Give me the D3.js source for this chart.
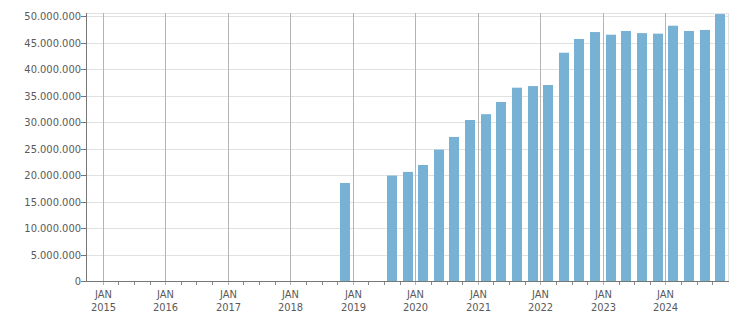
<!DOCTYPE html>
<html>
<head>
<meta charset="utf-8">
<script src="https://cdn.jsdelivr.net/npm/d3@7"></script>
<style>
  body { margin: 0; background: #fff; }
  text { font-family: "DejaVu Sans Condensed", "DejaVu Sans", sans-serif; font-size: 11px; fill: #5a5a5a; }
</style>
</head>
<body>
<script>
// quarter (start month) and value
var quarters = ["2018-10", "2019-07", "2019-10", "2020-01", "2020-04", "2020-07", "2020-10",
                "2021-01", "2021-04", "2021-07", "2021-10", "2022-01", "2022-04", "2022-07",
                "2022-10", "2023-01", "2023-04", "2023-07", "2023-10", "2024-01", "2024-04",
                "2024-07", "2024-10"];
var values = [18.5, 19.9, 20.6, 21.9, 24.8, 27.2, 30.4,
              31.5, 33.8, 36.5, 36.8, 37.0, 43.1, 45.7,
              47.0, 46.5, 47.2, 46.8, 46.7, 48.2, 47.2,
              47.4, 50.4].map(function(v) { return v * 1e6; });
var years = [2015, 2016, 2017, 2018, 2019, 2020, 2021, 2022, 2023, 2024];
var yTicks = [0, 5e6, 10e6, 15e6, 20e6, 25e6, 30e6, 35e6, 40e6, 45e6, 50e6];

var width = 751, height = 313,
    margin = {top: 13, right: 23, bottom: 32, left: 87};

var svg = d3.select("body").append("svg")
    .attr("width", width)
    .attr("height", height);

var x = d3.scaleLinear()
    .domain([2014.75, 2025])
    .range([margin.left, width - margin.right]);

var y = d3.scaleLinear()
    .domain([0, 50.6e6])
    .range([height - margin.bottom, margin.top]);

var fmt = function(d) { return d3.format(",")(d).replace(/,/g, "."); };

// horizontal grid
svg.append("g").selectAll("line")
    .data(yTicks)
    .enter().append("line")
    .attr("x1", margin.left).attr("x2", width - margin.right)
    .attr("y1", function(d) { return Math.round(y(d)) + 0.5; })
    .attr("y2", function(d) { return Math.round(y(d)) + 0.5; })
    .attr("stroke", "#e1e1e1");

// frame top / right
svg.append("line")
    .attr("x1", margin.left).attr("x2", width - margin.right + 0.5)
    .attr("y1", margin.top + 0.5).attr("y2", margin.top + 0.5)
    .attr("stroke", "#e1e1e1");
svg.append("line")
    .attr("x1", width - margin.right + 0.5).attr("x2", width - margin.right + 0.5)
    .attr("y1", margin.top).attr("y2", height - margin.bottom)
    .attr("stroke", "#e1e1e1");

// vertical grid at JAN
svg.append("g").selectAll("line")
    .data(years)
    .enter().append("line")
    .attr("x1", function(d) { return Math.round(x(d)) + 0.5; })
    .attr("x2", function(d) { return Math.round(x(d)) + 0.5; })
    .attr("y1", margin.top)
    .attr("y2", height - margin.bottom + 4)
    .attr("stroke", "#b4b4b4");

// bars
var qx = function(q) {
    var p = q.split("-");
    return +p[0] + (+p[1] - 1) / 12;
};
var barW = 10;
svg.append("g").selectAll("rect")
    .data(quarters)
    .enter().append("rect")
    .attr("x", function(d) { return Math.round(x(qx(d) + 1.5 / 12) - barW / 2); })
    .attr("width", barW)
    .attr("y", function(d, i) { return y(values[i]); })
    .attr("height", function(d, i) { return y(0) - y(values[i]); })
    .attr("fill", "#77b1d4");

// minor ticks (quarters)
var qTicks = d3.range(2015, 2025, 0.25).filter(function(d) { return d % 1 !== 0; });
svg.append("g").selectAll("line")
    .data(qTicks)
    .enter().append("line")
    .attr("x1", function(d) { return Math.round(x(d)) + 0.5; })
    .attr("x2", function(d) { return Math.round(x(d)) + 0.5; })
    .attr("y1", height - margin.bottom)
    .attr("y2", height - margin.bottom + 4)
    .attr("stroke", "#888");

// axes lines
svg.append("line")
    .attr("x1", margin.left - 0.5).attr("x2", width - margin.right + 1)
    .attr("y1", Math.round(y(0)) + 0.5).attr("y2", Math.round(y(0)) + 0.5)
    .attr("stroke", "#777");
svg.append("line")
    .attr("x1", margin.left - 0.5).attr("x2", margin.left - 0.5)
    .attr("y1", margin.top).attr("y2", Math.round(y(0)) + 1)
    .attr("stroke", "#777");

// y ticks + labels
var yg = svg.append("g").selectAll("g")
    .data(yTicks)
    .enter().append("g")
    .attr("transform", function(d) { return "translate(0," + (Math.round(y(d)) + 0.5) + ")"; });
yg.append("line")
    .attr("x1", margin.left - 6).attr("x2", margin.left)
    .attr("stroke", "#777");
yg.append("text")
    .attr("x", margin.left - 6)
    .attr("dy", "0.35em")
    .attr("text-anchor", "end")
    .text(fmt);

// x labels
var xg = svg.append("g").selectAll("g")
    .data(years)
    .enter().append("g")
    .attr("transform", function(d) { return "translate(" + (Math.round(x(d)) + 0.5) + ",0)"; });
xg.append("text")
    .attr("y", 298)
    .attr("text-anchor", "middle")
    .text("JAN");
xg.append("text")
    .attr("y", 311)
    .attr("text-anchor", "middle")
    .text(function(d) { return d; });
</script>
</body>
</html>
